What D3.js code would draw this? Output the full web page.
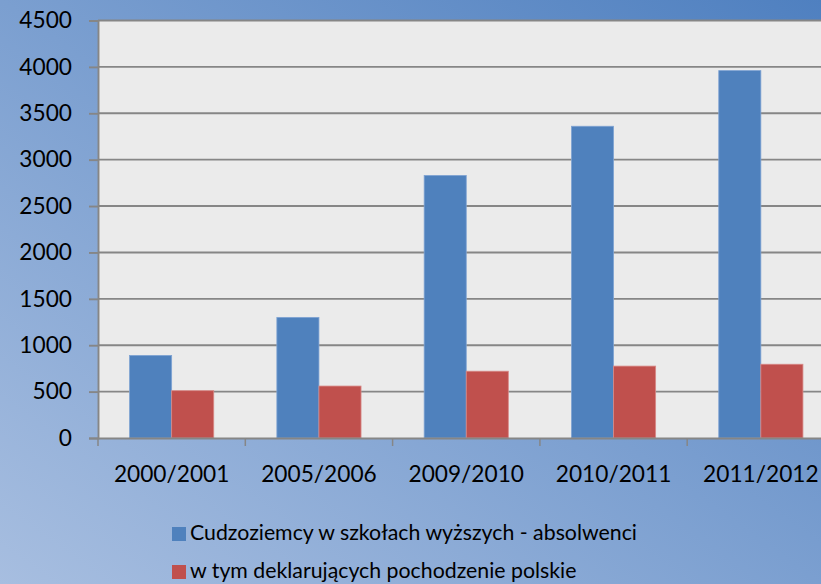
<!DOCTYPE html>
<html>
<head>
  <meta charset="utf-8">
  <style>
    body { margin: 0; }
    svg { display: block; }
    text { font-family: Lato, "Open Sans", sans-serif; fill: #000; }
  </style>
</head>
<body>
  <svg width="821" height="584"></svg>

  <script src="https://d3js.org/d3.v7.min.js"></script>
  <script>
    const categories = ["2000/2001", "2005/2006", "2009/2010", "2010/2011", "2011/2012"];
    const seriesNames = ["Cudzoziemcy w szkołach wyższych - absolwenci", "w tym deklarujących pochodzenie polskie"];
    const graduates = [890, 1300, 2830, 3360, 3960];
    const polishOrigin = [510, 560, 720, 775, 795];
    const yTicks = [0, 500, 1000, 1500, 2000, 2500, 3000, 3500, 4000, 4500];
    const colors = ["#4f81bd", "#c0504d"];
    const strokes = ["#7fa3d3", "#d88a88"];

    const width = 821, height = 584;
    const plot = { left: 98, top: 20.5, right: 834.5, bottom: 438 };

    const svg = d3.select("svg");

    // background gradient
    const defs = svg.append("defs");
    const grad = defs.append("linearGradient")
      .attr("id", "bg")
      .attr("x1", "0%").attr("y1", "100%")
      .attr("x2", "100%").attr("y2", "0%");
    grad.append("stop").attr("offset", "0%").attr("stop-color", "#a7bee0");
    grad.append("stop").attr("offset", "100%").attr("stop-color", "#4f80c0");
    svg.append("rect").attr("width", width).attr("height", height).attr("fill", "url(#bg)");

    const x0 = d3.scaleBand().domain(categories).range([plot.left, plot.right]).padding(0);
    const x1 = d3.scaleBand().domain([0, 1]).range([0, x0.bandwidth()]).paddingInner(0).paddingOuter(0.75);
    const y = d3.scaleLinear().domain([0, 4500]).range([plot.bottom, plot.top]);

    svg.append("rect")
      .attr("x", plot.left).attr("y", plot.top)
      .attr("width", plot.right - plot.left).attr("height", plot.bottom - plot.top)
      .attr("fill", "#ebebeb");

    // gridlines
    svg.append("g").selectAll("line")
      .data(yTicks.filter(d => d > 0))
      .join("line")
      .attr("x1", plot.left).attr("x2", plot.right)
      .attr("y1", d => y(d)).attr("y2", d => y(d))
      .attr("stroke", "#868686").attr("stroke-width", 1.9);

    // bars
    const series = [graduates, polishOrigin];
    series.forEach((vals, s) => {
      svg.append("g").selectAll("rect")
        .data(vals)
        .join("rect")
        .attr("x", (d, i) => x0(categories[i]) + x1(s))
        .attr("y", d => y(d))
        .attr("width", x1.bandwidth())
        .attr("height", d => y(0) - y(d))
        .attr("fill", colors[s])
        .attr("stroke", strokes[s])
        .attr("stroke-width", 0.8);
    });

    // y axis
    const yAxis = svg.append("g")
      .attr("transform", `translate(${plot.left},0)`)
      .call(d3.axisLeft(y).tickValues(yTicks).tickSize(9).tickPadding(17).tickFormat(d3.format("d")));
    yAxis.select(".domain").attr("stroke", "#868686").attr("stroke-width", 1.9);
    yAxis.selectAll(".tick line").attr("stroke", "#868686").attr("stroke-width", 1.9);
    yAxis.selectAll("text").attr("font-size", 22.7).attr("font-family", "Lato").attr("fill", "#000");

    // x axis
    const xAxis = svg.append("g")
      .attr("transform", `translate(0,${plot.bottom})`)
      .call(d3.axisBottom(x0).tickSize(0).tickPadding(28));
    xAxis.select(".domain").attr("stroke", "#868686").attr("stroke-width", 1.9);
    xAxis.selectAll("text").attr("font-size", 22.7).attr("font-family", "Lato").attr("fill", "#000");
    svg.append("g").selectAll("line")
      .data(categories)
      .join("line")
      .attr("x1", d => x0(d)).attr("x2", d => x0(d))
      .attr("y1", plot.bottom).attr("y2", plot.bottom + 8)
      .attr("stroke", "#868686").attr("stroke-width", 1.5);

    // legend
    const legend = svg.append("g").attr("transform", "translate(172,527)");
    seriesNames.forEach((name, i) => {
      const g = legend.append("g").attr("transform", `translate(0,${i * 38})`);
      g.append("rect").attr("width", 14).attr("height", 14).attr("fill", colors[i]);
      g.append("text").attr("x", 18).attr("y", 13).attr("font-size", 21.3).text(name);
    });
  </script>
</body>
</html>
